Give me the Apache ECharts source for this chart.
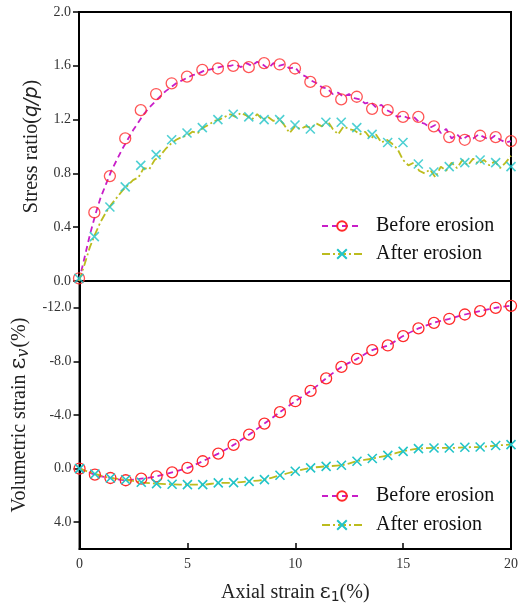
<!DOCTYPE html>
<html><head><meta charset="utf-8">
<script src="https://cdn.jsdelivr.net/npm/echarts@6/dist/echarts.min.js"></script>
<style>html,body{margin:0;padding:0;background:#fff}#c{width:523px;height:613px}</style>
</head><body><div id="c"></div>
<script>
// ---- data ----
const markerX = [0, 0.71, 1.43, 2.14, 2.86, 3.57, 4.29, 5.0, 5.71, 6.43, 7.14, 7.86, 8.57, 9.29, 10.0, 10.71, 11.43, 12.14, 12.86, 13.57, 14.29, 15.0, 15.71, 16.43, 17.14, 17.86, 18.57, 19.29, 20.0];
const stressBeforeMarkers = [0.02, 0.51, 0.78, 1.06, 1.27, 1.39, 1.47, 1.52, 1.57, 1.58, 1.60, 1.59, 1.62, 1.61, 1.58, 1.48, 1.41, 1.35, 1.37, 1.28, 1.27, 1.22, 1.22, 1.15, 1.07, 1.05, 1.08, 1.07, 1.04];
const stressAfterMarkers = [0.02, 0.33, 0.55, 0.70, 0.86, 0.94, 1.05, 1.10, 1.14, 1.20, 1.24, 1.22, 1.20, 1.20, 1.16, 1.13, 1.18, 1.18, 1.14, 1.09, 1.03, 1.03, 0.87, 0.81, 0.85, 0.88, 0.90, 0.88, 0.85];
const volBefore = [0, 0.45, 0.70, 0.87, 0.75, 0.58, 0.28, -0.05, -0.55, -1.12, -1.77, -2.54, -3.36, -4.21, -5.03, -5.80, -6.73, -7.59, -8.19, -8.84, -9.19, -9.89, -10.46, -10.88, -11.18, -11.50, -11.75, -12.00, -12.15];
const volAfter = [0, 0.40, 0.70, 0.83, 1.02, 1.12, 1.17, 1.20, 1.20, 1.07, 1.05, 0.95, 0.82, 0.50, 0.20, -0.05, -0.17, -0.25, -0.55, -0.75, -0.99, -1.29, -1.49, -1.54, -1.54, -1.59, -1.61, -1.72, -1.79];
// dense (noisy) stress-ratio curves, x step 0.25
const denseX = [0,0.25,0.5,0.75,1,1.25,1.5,1.75,2,2.25,2.5,2.75,3,3.25,3.5,3.75,4,4.25,4.5,4.75,5,5.25,5.5,5.75,6,6.25,6.5,6.75,7,7.25,7.5,7.75,8,8.25,8.5,8.75,9,9.25,9.5,9.75,10,10.25,10.5,10.75,11,11.25,11.5,11.75,12,12.25,12.5,12.75,13,13.25,13.5,13.75,14,14.25,14.5,14.75,15,15.25,15.5,15.75,16,16.25,16.5,16.75,17,17.25,17.5,17.75,18,18.25,18.5,18.75,19,19.25,19.5,19.75,20];
const stressBeforeLine = [0.0,0.17,0.34,0.49,0.62,0.72,0.82,0.90,0.98,1.05,1.12,1.18,1.24,1.29,1.33,1.37,1.41,1.44,1.47,1.49,1.51,1.53,1.54,1.56,1.57,1.58,1.59,1.60,1.60,1.61,1.59,1.62,1.60,1.63,1.61,1.58,1.62,1.60,1.61,1.58,1.59,1.54,1.52,1.49,1.47,1.44,1.43,1.39,1.40,1.37,1.39,1.36,1.35,1.32,1.33,1.29,1.31,1.27,1.25,1.22,1.23,1.21,1.22,1.18,1.17,1.14,1.16,1.10,1.13,1.06,1.09,1.05,1.08,1.06,1.09,1.07,1.05,1.08,1.05,1.03,1.04];
const stressAfterLine = [0.0,0.12,0.25,0.35,0.44,0.51,0.57,0.62,0.67,0.71,0.75,0.77,0.84,0.83,0.90,0.93,0.98,1.02,1.05,1.07,1.08,1.11,1.10,1.14,1.16,1.19,1.20,1.22,1.24,1.22,1.25,1.23,1.20,1.24,1.20,1.22,1.19,1.21,1.16,1.10,1.15,1.13,1.15,1.14,1.17,1.15,1.19,1.13,1.09,1.15,1.13,1.12,1.09,1.11,1.06,1.09,1.03,1.05,1.02,0.98,0.90,0.86,0.88,0.82,0.80,0.83,0.77,0.85,0.82,0.88,0.84,0.90,0.86,0.91,0.87,0.90,0.86,0.89,0.84,0.88,0.93];
const stressTicks = [0, 0.4, 0.8, 1.2, 1.6, 2.0];
const volTicks = [-12, -8, -4, 0, 4];
const names = ['Before erosion', 'After erosion'];

// ---- styles ----
const FONT = 'Liberation Serif';
const C_BEF_LINE = '#c81ec8', C_BEF_MK = '#ff2a2a';
const C_AFT_LINE = '#bcbc1e', C_AFT_MK = '#22c4c8';
const XSYM = 'path://M0,0L10,10M10,0L0,10';
const zip = (xs, ys) => xs.map((x, i) => [x, ys[i]]);

const chart = echarts.init(document.getElementById('c'));
const axisLabel = {color: '#333', fontFamily: FONT, fontSize: 14};
const axisLine = {show: true, onZero: false, lineStyle: {color: '#000', width: 2}};
const yTick = {show: true, length: 6, lineStyle: {color: '#000', width: 1.5}};
const befItem = {color: 'rgba(0,0,0,0)', borderColor: C_BEF_MK, borderWidth: 1.3};
const aftItem = {color: 'rgba(0,0,0,0)', borderColor: C_AFT_MK, borderWidth: 1.6};
const befLine = {color: C_BEF_LINE, width: 1.8, type: [6, 4]};
const aftLine = {color: C_AFT_LINE, width: 1.8, type: [8, 3, 2, 3]};
const rich = {
  t: {fontFamily: FONT, fontSize: 20, color: '#222'},
  e: {fontFamily: 'DejaVu Serif', fontSize: 21, color: '#222'},
  e2: {fontFamily: 'DejaVu Serif', fontSize: 23, color: '#222'},
  i: {fontFamily: 'DejaVu Sans', fontStyle: 'italic', fontSize: 19, color: '#222'},
  s: {fontFamily: 'DejaVu Sans', fontSize: 14, color: '#222', padding: [8, 0, 0, 0]},
  si: {fontFamily: 'DejaVu Serif', fontStyle: 'italic', fontSize: 16, color: '#222', padding: [8, 1, 0, 0]}
};

chart.setOption({
  animation: false,
  grid: [
    {left: 79, right: 12, top: 12, height: 269, show: true, borderColor: '#000', borderWidth: 2},
    {left: 79, right: 12, top: 281, height: 268, show: true, borderColor: '#000', borderWidth: 2}
  ],
  xAxis: [
    {gridIndex: 0, type: 'value', min: 0, max: 20, interval: 5, axisLine, axisTick: {show: false}, axisLabel: {show: false}, splitLine: {show: false}},
    {gridIndex: 1, type: 'value', min: 0, max: 20, interval: 5, axisLine,
      axisTick: {show: true, inside: true, length: 6, lineStyle: {color: '#000', width: 1.5}},
      axisLabel: Object.assign({margin: 8}, axisLabel), splitLine: {show: false},
      name: '{t|Axial strain }{e|ε}{s|1}{t|(%)}', nameLocation: 'middle', nameGap: 33,
      nameTextStyle: {rich}}
  ],
  yAxis: [
    {gridIndex: 0, type: 'value', min: 0, max: 2.0, axisLine,
      axisTick: Object.assign({customValues: stressTicks}, yTick),
      axisLabel: Object.assign({margin: 8, customValues: stressTicks, formatter: (v) => v.toFixed(1)}, axisLabel),
      splitLine: {show: false},
      name: '{t|Stress ratio(}{i|q/p}{t|)}', nameLocation: 'middle', nameGap: 37,
      nameTextStyle: {rich}},
    {gridIndex: 1, type: 'value', min: -14, max: 6, inverse: true, axisLine,
      axisTick: Object.assign({customValues: volTicks}, yTick),
      axisLabel: Object.assign({margin: 8, customValues: volTicks, formatter: (v) => v.toFixed(1)}, axisLabel),
      splitLine: {show: false},
      name: '{t|Volumetric strain }{e2|ε}{si|v}{t|(%)}', nameLocation: 'middle', nameGap: 40,
      nameTextStyle: {rich}}
  ],
  legend: [
    {data: names, orient: 'vertical', left: 316, top: 211, itemWidth: 40, itemHeight: 12, itemGap: 8,
      textStyle: {fontFamily: FONT, fontSize: 20, lineHeight: 20, color: '#111', padding: [0, 0, 0, 9]}},
    {data: names, orient: 'vertical', left: 316, top: 481, itemWidth: 40, itemHeight: 12, itemGap: 9,
      textStyle: {fontFamily: FONT, fontSize: 20, lineHeight: 20, color: '#111', padding: [0, 0, 0, 9]}}
  ],
  series: [
    {name: names[0], type: 'line', xAxisIndex: 0, yAxisIndex: 0, data: zip(denseX, stressBeforeLine),
      showSymbol: false, symbol: 'circle', symbolSize: 10, itemStyle: befItem, lineStyle: befLine, z: 2},
    {name: names[1], type: 'line', xAxisIndex: 0, yAxisIndex: 0, data: zip(denseX, stressAfterLine),
      showSymbol: false, symbol: XSYM, symbolSize: 9, itemStyle: aftItem, lineStyle: aftLine, z: 2},
    {type: 'scatter', xAxisIndex: 0, yAxisIndex: 0, data: zip(markerX, stressBeforeMarkers),
      symbol: 'circle', symbolSize: 11, itemStyle: befItem, z: 3},
    {type: 'scatter', xAxisIndex: 0, yAxisIndex: 0, data: zip(markerX, stressAfterMarkers),
      symbol: XSYM, symbolSize: 9, itemStyle: aftItem, z: 3},
    {name: names[0], type: 'line', xAxisIndex: 1, yAxisIndex: 1, data: zip(markerX, volBefore), smooth: 0.3,
      showSymbol: true, showAllSymbol: true, symbol: 'circle', symbolSize: 11, itemStyle: befItem, lineStyle: befLine, z: 3},
    {name: names[1], type: 'line', xAxisIndex: 1, yAxisIndex: 1, data: zip(markerX, volAfter), smooth: 0.3,
      showSymbol: true, showAllSymbol: true, symbol: XSYM, symbolSize: 9, itemStyle: aftItem, lineStyle: aftLine, z: 3}
  ]
});
</script></body></html>
